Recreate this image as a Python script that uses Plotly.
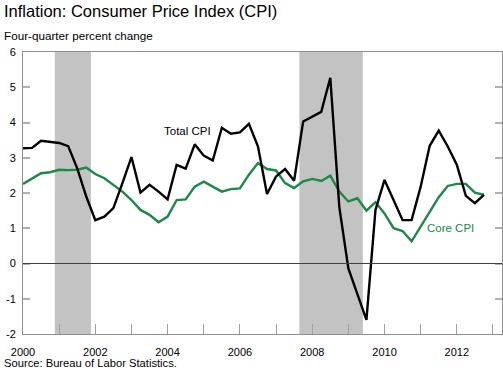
import plotly.graph_objects as go

years = [2000 + i / 4 for i in range(52)]

total_cpi = [3.27, 3.28, 3.48, 3.44, 3.42, 3.33, 2.70, 1.90,
             1.23, 1.33, 1.57, 2.28, 3.02, 2.01, 2.23, 2.04,
             1.82, 2.80, 2.69, 3.38, 3.06, 2.92, 3.85, 3.68,
             3.72, 3.96, 3.32, 1.97, 2.47, 2.68, 2.35, 4.03,
             4.16, 4.30, 5.27, 1.60, -0.14, -0.85, -1.60, 1.52,
             2.37, 1.80, 1.23, 1.23, 2.18, 3.34, 3.77, 3.32,
             2.80, 1.92, 1.71, 1.95]

core_cpi = [2.26, 2.40, 2.56, 2.59, 2.66, 2.65, 2.66, 2.72,
            2.54, 2.42, 2.23, 2.04, 1.80, 1.52, 1.38, 1.17,
            1.33, 1.80, 1.82, 2.18, 2.32, 2.17, 2.04, 2.11,
            2.13, 2.52, 2.85, 2.68, 2.64, 2.28, 2.14, 2.33,
            2.40, 2.34, 2.49, 2.04, 1.76, 1.85, 1.50, 1.74,
            1.42, 1.00, 0.92, 0.63, 1.04, 1.47, 1.88, 2.20,
            2.26, 2.26, 2.01, 1.95]

recessions = [(2000.88, 2001.88), (2007.645, 2009.40)]

x_tick_vals = list(range(2000, 2014))
x_tick_text = [str(y) if y % 2 == 0 else "" for y in x_tick_vals]
y_tick_vals = [-2, -1, 0, 1, 2, 3, 4, 5, 6]
y_tick_text = ["-2", "-1", "0", "1", "2", "3", "4", "5", "6"]

GREEN = "#1b8a46"
FONT = "Liberation Sans, Arial, sans-serif"

W, H = 503, 379
L, R, T, B = 23, 1, 52, 45
pw, ph = W - L - R, H - T - B


def px(xp):
    return (xp - L) / pw


def py(yp):
    return (H - B - yp) / ph


fig = go.Figure()
fig.add_trace(go.Scatter(x=years, y=core_cpi, mode="lines",
                         line=dict(color=GREEN, width=2.4), showlegend=False))
fig.add_trace(go.Scatter(x=years, y=total_cpi, mode="lines",
                         line=dict(color="#000000", width=2.4), showlegend=False))

for a, b in recessions:
    fig.add_shape(type="rect", xref="x", yref="paper", x0=a, x1=b, y0=0, y1=1,
                  fillcolor="#c3c3c3", line=dict(width=0), layer="below")

fig.add_shape(type="line", xref="paper", yref="y", x0=0, x1=1, y0=0, y1=0,
              line=dict(color="#404040", width=1.2))

fig.add_annotation(x=2003.84, y=3.76, xref="x", yref="y", text="Total CPI",
                   showarrow=False, xanchor="left", yanchor="middle",
                   font=dict(size=11.5, color="#000000", family=FONT))
fig.add_annotation(x=2011.13, y=1.0, xref="x", yref="y", text="Core CPI",
                   showarrow=False, xanchor="left", yanchor="middle",
                   font=dict(size=11.5, color=GREEN, family=FONT))

fig.add_annotation(x=px(2), y=py(11), xref="paper", yref="paper",
                   text="Inflation: Consumer Price Index (CPI)", showarrow=False,
                   xanchor="left", yanchor="middle",
                   font=dict(size=16.5, color="#000000", family=FONT))
fig.add_annotation(x=px(2), y=py(36), xref="paper", yref="paper",
                   text="Four-quarter percent change", showarrow=False,
                   xanchor="left", yanchor="middle",
                   font=dict(size=11.7, color="#000000", family=FONT))
fig.add_annotation(x=px(2), y=py(363), xref="paper", yref="paper",
                   text="Source: Bureau of Labor Statistics.", showarrow=False,
                   xanchor="left", yanchor="middle",
                   font=dict(size=11.2, color="#000000", family=FONT))

fig.update_layout(
    width=W, height=H,
    margin=dict(l=L, r=R, t=T, b=B, pad=0, autoexpand=False),
    paper_bgcolor="white", plot_bgcolor="white",
    font=dict(family=FONT, size=11, color="#000000"),
    xaxis=dict(range=[2000, 2013.25], tickvals=x_tick_vals, ticktext=x_tick_text,
               ticks="inside", ticklen=10, tickcolor="#a0a0a0", tickwidth=1,
               showgrid=False, zeroline=False, showline=True, linecolor="#909090",
               linewidth=1, mirror=True, ticklabelstandoff=8, automargin=False,
               tickfont=dict(size=11, family=FONT)),
    yaxis=dict(range=[-2, 6], tickvals=y_tick_vals, ticktext=y_tick_text,
               ticks="inside", ticklen=7, tickcolor="#b0b0b0", tickwidth=1.5,
               showgrid=False, zeroline=False, showline=True, linecolor="#909090",
               linewidth=1, mirror="ticks", ticklabelstandoff=4, automargin=False,
               tickfont=dict(size=11, family=FONT)),
)

fig.write_html("out.html", config={"displayModeBar": False},
               post_script="document.body.style.margin='0';document.body.style.overflow='hidden';")
